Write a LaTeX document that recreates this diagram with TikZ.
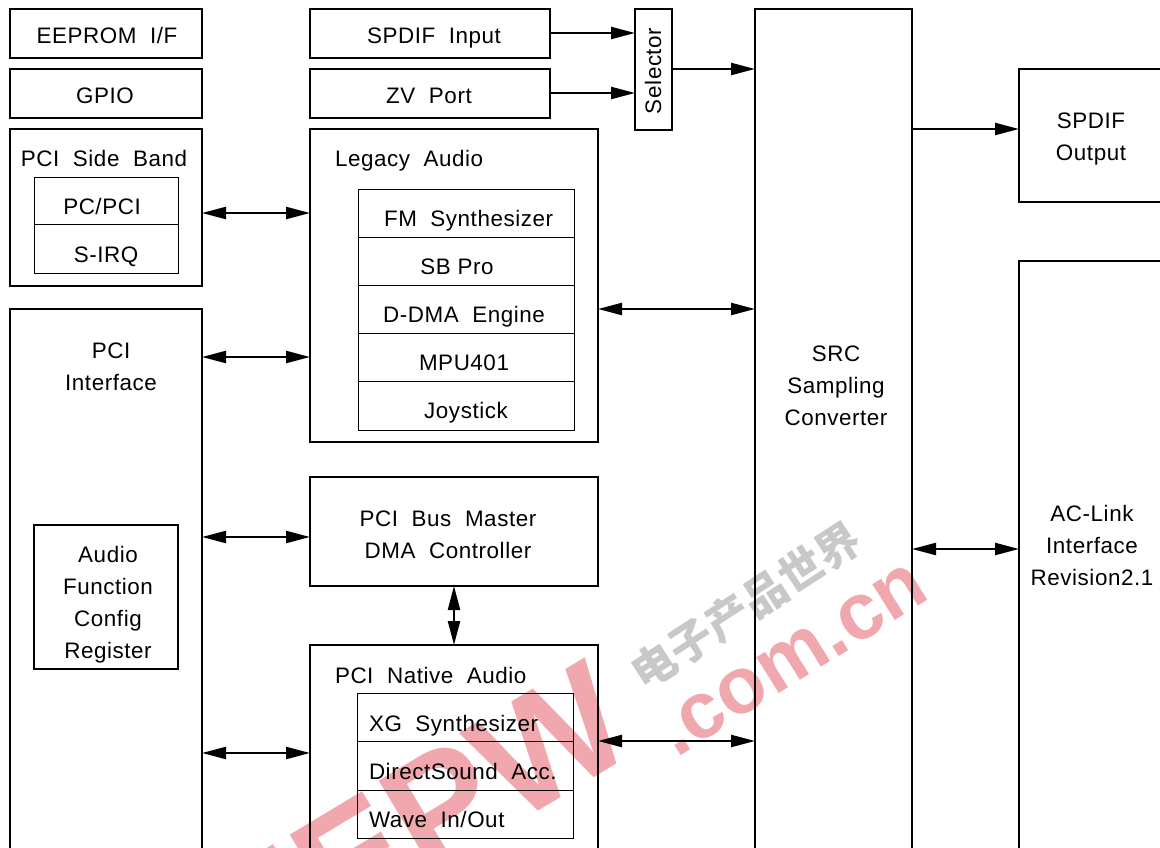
\documentclass[tikz,border=0pt]{standalone}
\usepackage{fontspec}
\setmainfont{Liberation Sans}[LetterSpace=2.5]
\newfontfamily\wmfont{Liberation Sans}
\newfontfamily\cjkwm{Noto Sans CJK SC}
\usetikzlibrary{arrows.meta}
\definecolor{wmpink}{RGB}{240,168,174}
\definecolor{wmgray}{RGB}{200,200,200}
\tikzset{
  x=0.75pt,y=-0.75pt,
  thickbox/.style={draw=black,line width=1.9pt,inner sep=0,outer sep=0,anchor=north west},
  thinbox/.style={draw=black,line width=0.65pt,inner sep=0,outer sep=0,anchor=north west},
  lbl/.style={inner sep=0,outer sep=0,font=\fontsize{16.8}{20}\selectfont,align=center},
  two/.style={line width=1.7pt,{Triangle[length=18pt,width=9pt]}-{Triangle[length=18pt,width=9pt]}},
  one/.style={line width=1.7pt,-{Triangle[length=18pt,width=9pt]}},
  divider/.style={line width=0.75pt},
}
\newcommand{\bx}[6][thickbox]{\node[#1,minimum width={(#5-#3)*0.75pt},minimum height={(#6-#4)*0.75pt}] (#2) at (#3,#4) {};}
\begin{document}
\begin{tikzpicture}
\useasboundingbox (0,0) rectangle (1160,848);
\clip (0,0) rectangle (1160,848);
% faint mark printed over the original scan
\node[rotate=32,text=wmpink,font=\wmfont\fontsize{60}{60}\selectfont\bfseries,inner sep=0] (wmcom) at (793,660) {.com.cn};
\node[rotate=33,text=wmgray,font=\cjkwm\fontsize{33}{33}\selectfont\bfseries,inner sep=0] (wmcn) at (746,606) {电子产品世界};
\node[rotate=31,text=wmpink,font=\wmfont\fontsize{117}{117}\selectfont\bfseries,inner sep=0,anchor=north east] (wmlogo) at (586,657) {EEPW};
% boxes
\bx{eeprom}{10}{9}{202}{58}
\bx{gpio}{10}{69}{202}{118}
\bx{sideband}{10}{129}{202}{286}
\bx[thinbox]{sbinner}{34}{177}{178}{273}
\bx{pciif}{10}{309}{202}{870}
\bx{afcr}{34}{525}{178}{669}
\bx{spdifin}{310}{9}{550}{58}
\bx{zv}{310}{69}{550}{118}
\bx{selector}{635}{9}{672}{130}
\bx{legacy}{310}{129}{598}{442}
\bx[thinbox]{lginner}{358}{189}{574}{430}
\bx{busmaster}{310}{477}{598}{586}
\bx{native}{310}{645}{598}{870}
\bx[thinbox]{nainner}{357}{693}{573}{838}
\bx{src}{755}{9}{912}{870}
\bx{spdifout}{1019}{69}{1175}{202}
\bx{aclink}{1019}{261}{1175}{870}
% dividers
\draw[divider] (sbinner.west |- 0,225) -- (sbinner.east |- 0,225);
\foreach \yy in {238,286,334,382} \draw[divider] (lginner.west |- 0,\yy) -- (lginner.east |- 0,\yy);
\foreach \yy in {741,790} \draw[divider] (nainner.west |- 0,\yy) -- (nainner.east |- 0,\yy);
% labels
\node[lbl,anchor=base] (t1) at (107,44) {EEPROM~~I/F};
\node[lbl,anchor=base] (t2) at (105,104) {GPIO};
\node[lbl,anchor=base] (t3) at (104,167) {PCI~~Side~~Band};
\node[lbl,anchor=base] (t4) at (102,215) {PC/PCI};
\node[lbl,anchor=base] (t5) at (106,263) {S-IRQ};
\node[lbl] (t6) at (111,367) {PCI\\[4pt]Interface};
\node[lbl] (t7) at (108,605) {Audio\\[4pt]Function\\[4pt]Config\\[4pt]Register};
\node[lbl,anchor=base] (t8) at (434,44) {SPDIF~~Input};
\node[lbl,anchor=base] (t9) at (429,104) {ZV~~Port};
\node[lbl,rotate=90] (t10) at (653,71) {Selector};
\node[lbl,anchor=base west] (t11) at (335,167) {Legacy~~Audio};
\node[lbl,anchor=base west] (t12) at (384,227) {FM~~Synthesizer};
\node[lbl,anchor=base] (t13) at (457,275) {SB Pro};
\node[lbl,anchor=base] (t14) at (464,323) {D-DMA~~Engine};
\node[lbl,anchor=base] (t15) at (464,371) {MPU401};
\node[lbl,anchor=base] (t16) at (466,419) {Joystick};
\node[lbl] (t17) at (448,535) {PCI~~Bus~~Master\\[4pt]DMA~~Controller};
\node[lbl,anchor=base west] (t18) at (335,683) {PCI~~Native~~Audio};
\node[lbl,anchor=base west] (t19) at (369,731) {XG~~Synthesizer};
\node[lbl,anchor=base west] (t20) at (369,779) {DirectSound~~Acc.};
\node[lbl,anchor=base west] (t21) at (369,827) {Wave~~In/Out};
\node[lbl] (t22) at (836,386) {SRC\\[4pt]Sampling\\[4pt]Converter};
\node[lbl] (t23) at (1091,139) {SPDIF\\[4pt]Output};
\node[lbl] (t24) at (1092,545) {AC-Link\\[4pt]Interface\\[4pt]Revision2.1};
% connectors
\draw[one] (spdifin.east |- 0,33) -- (selector.west |- 0,33);
\draw[one] (zv.east |- 0,93) -- (selector.west |- 0,93);
\draw[one] (selector.east |- 0,69) -- (src.west |- 0,69);
\draw[one] (src.east |- 0,129) -- (spdifout.west |- 0,129);
\draw[two] (sideband.east |- 0,213) -- (legacy.west |- 0,213);
\draw[two] (pciif.east |- 0,357) -- (legacy.west |- 0,357);
\draw[two] (pciif.east |- 0,537) -- (busmaster.west |- 0,537);
\draw[two] (pciif.east |- 0,753) -- (native.west |- 0,753);
\draw[two] (legacy.east |- 0,309) -- (src.west |- 0,309);
\draw[two] (native.east |- 0,741) -- (src.west |- 0,741);
\draw[two] (src.east |- 0,549) -- (aclink.west |- 0,549);
\coordinate (bmv) at (454,600);
\draw[two] (busmaster.south -| bmv) -- (native.north -| bmv);
\end{tikzpicture}
\end{document}
